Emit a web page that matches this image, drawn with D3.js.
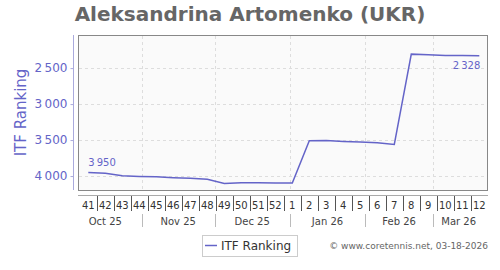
<!DOCTYPE html>
<html>
<head>
  <meta charset="utf-8">
  <title>Aleksandrina Artomenko (UKR)</title>
  <style>
  body { margin: 0px; background: #fff; }
  text { font-family: "DejaVu Sans", sans-serif; }
  .grid { stroke: #ddd; stroke-dasharray: 3,3; shape-rendering: crispEdges; }
  </style>
</head>
<body>
  <svg width="500" height="270"></svg>
  <script src="https://d3js.org/d3.v7.min.js"></script>
  <script>
  var weeks = ["41","42","43","44","45","46","47","48","49","50","51","52",
               "1","2","3","4","5","6","7","8","9","10","11","12"];
  var ranking = [3950, 3962, 3996, 4005, 4010, 4023, 4032, 4046, 4102, 4093, 4093, 4097,
                 4097, 3510, 3505, 3519, 3528, 3537, 3560, 2306, 2315, 2324, 2324, 2328];
  var months = ["Oct 25", "Nov 25", "Dec 25", "Jan 26", "Feb 26", "Mar 26"];
  var yTicks = [2500, 3000, 3500, 4000];
  var firstLabel = "3 950", lastLabel = "2 328";

  var svg = d3.select("svg");
  var blue = "#6464c8";
  var start = new Date(2025, 9, 10);
  var dates = weeks.map(function(w, i) { return d3.timeDay.offset(start, 7 * i); });
  var monthStarts = d3.timeMonth.range(new Date(2025, 9, 1), new Date(2026, 3, 1));

  var plot = {left: 78, right: 487, top: 35, bottom: 190};
  var x = d3.scaleTime()
    .domain([dates[0], dates[dates.length - 1]])
    .range([88.3, 479.3]);
  var step = x(dates[1]) - x(dates[0]);
  var y = d3.scaleLinear().domain([2040, 4194]).range([plot.top, plot.bottom]);
  var fmt = function(v) { return d3.format(",")(v).replace(",", "\u2009"); };

  // title
  svg.append("text")
    .attr("x", 250).attr("y", 21)
    .attr("text-anchor", "middle")
    .attr("font-size", "20px").attr("font-weight", "bold")
    .attr("fill", "#666")
    .text("Aleksandrina Artomenko (UKR)");

  // plot background
  svg.append("rect")
    .attr("x", plot.left + 0.5).attr("y", plot.top + 0.5)
    .attr("width", plot.right - plot.left).attr("height", plot.bottom - plot.top)
    .attr("fill", "#fafafa").attr("stroke", "#888");

  // grid
  svg.selectAll(".hgrid").data(yTicks).enter().append("line")
    .attr("class", "grid")
    .attr("x1", plot.left + 1).attr("x2", plot.right)
    .attr("y1", function(d) { return Math.round(y(d)) + 0.5; })
    .attr("y2", function(d) { return Math.round(y(d)) + 0.5; });
  svg.selectAll(".vgrid").data(monthStarts.slice(1)).enter().append("line")
    .attr("class", "grid")
    .attr("y1", plot.top + 1).attr("y2", plot.bottom)
    .attr("x1", function(d) { return Math.round(x(d)) + 0.5; })
    .attr("x2", function(d) { return Math.round(x(d)) + 0.5; });

  // left axis
  var yAxis = d3.axisLeft(y).tickValues(yTicks).tickSize(3).tickFormat(fmt);
  var ga = svg.append("g").attr("transform", "translate(73.5,0)").call(yAxis);
  ga.select(".domain").attr("d", "M0," + plot.top + "V" + plot.bottom).attr("stroke", "#aad");
  ga.selectAll(".tick line").attr("stroke", "#aad");
  ga.selectAll(".tick text").attr("fill", blue).attr("font-size", "12px")
    .attr("font-family", "DejaVu Sans").attr("x", -6);

  svg.append("text")
    .attr("transform", "translate(26,112.5) rotate(-90)")
    .attr("text-anchor", "middle")
    .attr("font-size", "15px").attr("fill", blue)
    .text("ITF Ranking");

  // bottom axis line
  svg.append("line")
    .attr("x1", plot.left).attr("x2", plot.right + 1)
    .attr("y1", 195.5).attr("y2", 195.5)
    .attr("stroke", "#aaa");

  // week labels + separators
  svg.selectAll(".wk").data(weeks).enter().append("text")
    .attr("x", function(d, i) { return x(dates[i]); })
    .attr("y", 208.5)
    .attr("text-anchor", "middle")
    .attr("font-size", "10px").attr("fill", "#333")
    .text(function(d) { return d; });
  svg.selectAll(".wsep").data(dates.slice(1)).enter().append("line")
    .attr("x1", function(d) { return Math.round(x(d) - step / 2) + 0.5; })
    .attr("x2", function(d) { return Math.round(x(d) - step / 2) + 0.5; })
    .attr("y1", 196).attr("y2", 211)
    .attr("stroke", "#555");

  // month labels + separators
  var mBounds = [d3.timeDay.offset(dates[0], -8)].concat(monthStarts.slice(1),
    [d3.timeDay.offset(dates[dates.length - 1], 2.5)]);
  svg.selectAll(".mo").data(months).enter().append("text")
    .attr("x", function(d, i) { return (x(mBounds[i]) + x(mBounds[i + 1])) / 2; })
    .attr("y", 224.5)
    .attr("text-anchor", "middle")
    .attr("font-size", "10px").attr("fill", "#444")
    .text(function(d) { return d; });
  svg.selectAll(".msep").data(monthStarts.slice(1)).enter().append("line")
    .attr("x1", function(d) { return Math.round(x(d)) + 0.5; })
    .attr("x2", function(d) { return Math.round(x(d)) + 0.5; })
    .attr("y1", 214).attr("y2", 227)
    .attr("stroke", "#bbb");

  // line
  var line = d3.line()
    .x(function(d, i) { return x(dates[i]); })
    .y(function(d) { return y(d); });
  svg.append("path")
    .datum(ranking)
    .attr("d", line)
    .attr("fill", "none")
    .attr("stroke", blue)
    .attr("stroke-width", 1.5);

  // data labels
  svg.append("text")
    .attr("x", x(dates[0])).attr("y", y(ranking[0]) - 6)
    .attr("font-size", "10px").attr("fill", blue)
    .text(firstLabel.replace(" ", "\u2009"));
  svg.append("text")
    .attr("x", x(dates[dates.length - 1]) + 1).attr("y", y(ranking[ranking.length - 1]) + 13)
    .attr("text-anchor", "end")
    .attr("font-size", "10px").attr("fill", blue)
    .text(lastLabel.replace(" ", "\u2009"));

  // legend
  svg.append("rect")
    .attr("x", 202.5).attr("y", 235.5).attr("width", 95).attr("height", 21)
    .attr("fill", "#fff").attr("stroke", "#ccc");
  svg.append("line")
    .attr("x1", 205).attr("x2", 217).attr("y1", 245.5).attr("y2", 245.5)
    .attr("stroke", blue).attr("stroke-width", 1.5);
  svg.append("text")
    .attr("x", 221).attr("y", 250)
    .attr("font-size", "12px").attr("fill", "#333")
    .text("ITF Ranking");

  // credit
  svg.append("text")
    .attr("x", 488).attr("y", 249)
    .attr("text-anchor", "end")
    .attr("font-size", "9px").attr("fill", "#666")
    .text("\u00a9 www.coretennis.net, 03-18-2026");
  </script>
</body>
</html>
